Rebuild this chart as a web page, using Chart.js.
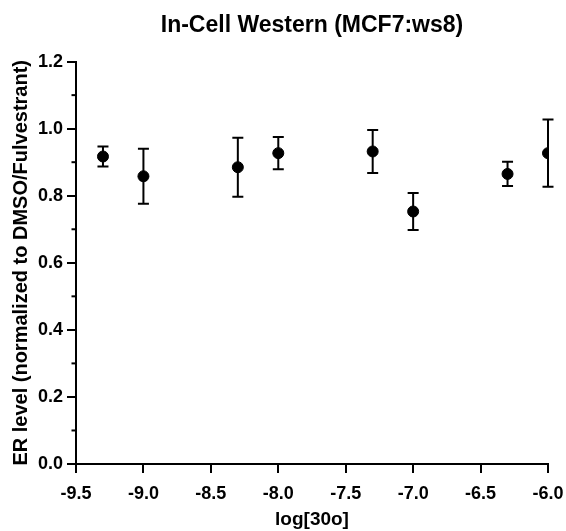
<!DOCTYPE html>
<html>
<head>
<meta charset="utf-8">
<script src="https://cdn.jsdelivr.net/npm/chart.js@4"></script>
<style>
    body { margin: 0; background: #ffffff; }
    canvas { display: block; }
</style>
</head>
<body>
<canvas id="westernChart" width="566" height="531"></canvas>
<script>
// log concentration of compound
const logDose = [-9.3, -9.0, -8.3, -8.0, -7.3, -7.0, -6.3, -6.0];
// mean ER level and error (SEM)
const erLevel = [0.917, 0.858, 0.885, 0.927, 0.932, 0.753, 0.865, 0.927];
const erError = [0.030, 0.082, 0.088, 0.048, 0.064, 0.055, 0.036, 0.100];

const xTicks = [-9.5, -9.0, -8.5, -8.0, -7.5, -7.0, -6.5, -6.0];
const yTicks = [0.0, 0.2, 0.4, 0.6, 0.8, 1.0, 1.2];
const yMinorTicks = [0.1, 0.3, 0.5, 0.7, 0.9, 1.1];

Chart.defaults.font.family = "'Liberation Sans', Arial, sans-serif";
Chart.defaults.font.weight = 'bold';
Chart.defaults.color = '#000000';

const points = logDose.map((x, i) => ({ x: x, y: erLevel[i] }));

// draws vertical error bars with caps before the dots
const errorBarPlugin = {
    id: 'errorBars',
    beforeDatasetsDraw(chart) {
        const ctx = chart.ctx;
        const xs = chart.scales.x;
        const ys = chart.scales.y;
        ctx.save();
        ctx.strokeStyle = '#000000';
        ctx.lineWidth = 2;
        logDose.forEach((x, i) => {
            const px = xs.getPixelForValue(x);
            const top = ys.getPixelForValue(erLevel[i] + erError[i]);
            const bottom = ys.getPixelForValue(erLevel[i] - erError[i]);
            const cap = 5.5;
            ctx.beginPath();
            ctx.moveTo(px, top);
            ctx.lineTo(px, bottom);
            ctx.moveTo(px - cap, top);
            ctx.lineTo(px + cap, top);
            ctx.moveTo(px - cap, bottom);
            ctx.lineTo(px + cap, bottom);
            ctx.stroke();
        });
        ctx.restore();
    },
    afterDraw(chart) {
        // short minor ticks on the y axis
        const ctx = chart.ctx;
        const ys = chart.scales.y;
        const left = chart.chartArea.left;
        ctx.save();
        ctx.strokeStyle = '#000000';
        ctx.lineWidth = 2;
        yMinorTicks.forEach(v => {
            const py = ys.getPixelForValue(v);
            ctx.beginPath();
            ctx.moveTo(left - 4.5, py);
            ctx.lineTo(left, py);
            ctx.stroke();
        });
        ctx.restore();
    }
};

new Chart(document.getElementById('westernChart'), {
    type: 'scatter',
    data: {
        datasets: [{
            data: points,
            backgroundColor: '#000000',
            borderColor: '#000000',
            pointRadius: 5.5,
            pointHoverRadius: 5.5
        }]
    },
    options: {
        responsive: false,
        animation: false,
        layout: {
            padding: { top: 0, right: 18, bottom: 0, left: 0 }
        },
        plugins: {
            legend: { display: false },
            tooltip: { enabled: false },
            title: {
                display: true,
                text: 'In-Cell Western (MCF7:ws8)',
                fullSize: false,
                font: { size: 23, weight: 'bold' },
                color: '#000000',
                padding: { top: 12, bottom: 22 }
            }
        },
        scales: {
            x: {
                type: 'linear',
                min: -9.5,
                max: -6.0,
                afterBuildTicks: scale => {
                    scale.ticks = xTicks.map(v => ({ value: v }));
                },
                afterFit: scale => {
                    scale.height = 67;
                    scale.paddingLeft = 0;
                    scale.paddingRight = 0;
                },
                ticks: {
                    font: { size: 18, weight: 'bold' },
                    color: '#000000',
                    padding: 10,
                    maxRotation: 0,
                    callback: v => v.toFixed(1)
                },
                grid: {
                    drawOnChartArea: false,
                    drawTicks: true,
                    tickLength: 9,
                    lineWidth: 2,
                    color: '#000000'
                },
                border: { display: true, width: 2, color: '#000000' },
                title: {
                    display: true,
                    text: 'log[30o]',
                    font: { size: 19, weight: 'bold' },
                    color: '#000000',
                    padding: { top: 0, bottom: 0 }
                }
            },
            y: {
                type: 'linear',
                min: 0,
                max: 1.2,
                afterBuildTicks: scale => {
                    scale.ticks = yTicks.map(v => ({ value: v }));
                },
                afterFit: scale => {
                    scale.width = 76;
                    scale.paddingTop = 0;
                    scale.paddingBottom = 0;
                },
                ticks: {
                    font: { size: 18, weight: 'bold' },
                    color: '#000000',
                    padding: 4,
                    callback: v => v.toFixed(1)
                },
                grid: {
                    drawOnChartArea: false,
                    drawTicks: true,
                    tickLength: 9,
                    lineWidth: 2,
                    color: '#000000'
                },
                border: { display: true, width: 2, color: '#000000' },
                title: {
                    display: true,
                    text: 'ER level (normalized to DMSO/Fulvestrant)',
                    font: { size: 20, weight: 'bold' },
                    color: '#000000',
                    padding: { top: 9, bottom: 0 }
                }
            }
        }
    },
    plugins: [errorBarPlugin]
});
</script>
</body>
</html>
